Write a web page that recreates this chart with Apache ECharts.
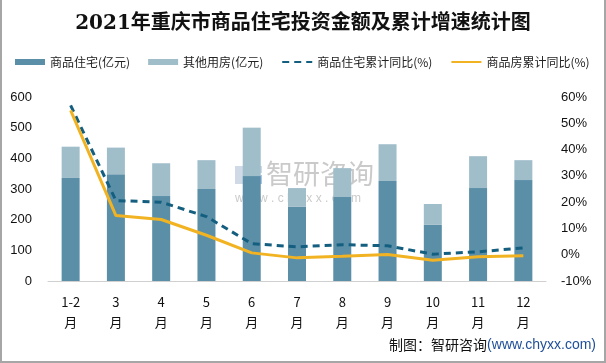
<!DOCTYPE html>
<html>
<head>
<meta charset="utf-8">
<script src="https://cdn.jsdelivr.net/npm/echarts@6/dist/echarts.min.js"></script>
<style>
html,body{margin:0;padding:0;background:#fff;}
#c{width:606px;height:363px;box-sizing:border-box;border-left:2px solid #a6a6a6;border-right:2px solid #a6a6a6;border-bottom:2px solid #a6a6a6;}
</style>
</head>
<body>
<div id="c"></div>
<script>
const categories = ['1-2', '3', '4', '5', '6', '7', '8', '9', '10', '11', '12'];
const residential = [336, 348, 277, 300, 342, 242, 274, 326, 183, 303, 329];
const otherHousing = [102, 87, 107, 94, 158, 61, 94, 120, 68, 104, 65];
const residentialYoY = [56.8, 20.6, 20.0, 14.5, 4.2, 3.0, 3.8, 3.4, 0.2, 1.1, 2.6];
const commercialYoY = [54.9, 14.9, 13.4, 7.4, 0.7, -1.2, -0.6, 0.1, -2.1, -0.8, -0.4];
const leftTicks = {min: 0, max: 600, interval: 100};
const rightTicks = {min: -10, max: 60, interval: 10};

const chart = echarts.init(document.getElementById('c'));
const font = '"Noto Sans CJK SC", "Liberation Sans", sans-serif';
chart.setOption({
  animation: false,
  title: {
    text: '2021年重庆市商品住宅投资金额及累计增速统计图',
    left: 'center', top: 9,
    textStyle: {fontSize: 20, fontWeight: 'bold', color: '#111', fontFamily: '"DejaVu Serif", "Noto Sans CJK SC", serif'}
  },
  legend: {
    left: 8, top: 51, itemWidth: 30, itemHeight: 6, itemGap: 18,
    textStyle: {fontSize: 12, color: '#222', fontFamily: font},
    data: [
      {name: '商品住宅(亿元)', icon: 'rect'},
      {name: '其他用房(亿元)', icon: 'rect'},
      {name: '商品住宅累计同比(%)', itemStyle: {opacity: 0}},
      {name: '商品房累计同比(%)', itemStyle: {opacity: 0}}
    ]
  },
  grid: {left: 46, right: 58, top: 97, bottom: 80},
  xAxis: {
    type: 'category', data: categories.map(c => c + '\n月'),
    axisLine: {lineStyle: {color: '#d0d0d0', width: 1}},
    axisTick: {show: false},
    axisLabel: {fontSize: 13, color: '#111', lineHeight: 20, margin: 11, fontFamily: font, interval: 0}
  },
  yAxis: [
    {type: 'value', min: leftTicks.min, max: leftTicks.max, interval: leftTicks.interval,
     splitLine: {show: false}, axisLine: {show: false}, axisTick: {show: false},
     axisLabel: {fontSize: 13, color: '#111', margin: 16, fontFamily: '"Liberation Sans", sans-serif'}},
    {type: 'value', min: rightTicks.min, max: rightTicks.max, interval: rightTicks.interval,
     splitLine: {show: false}, axisLine: {show: false}, axisTick: {show: false},
     axisLabel: {fontSize: 13, color: '#111', margin: 15, formatter: '{value}%', fontFamily: '"Liberation Sans", sans-serif'}}
  ],
  graphic: [
    {type: 'group', left: 233, top: 160, silent: true, z: 100, children: [
      {type: 'rect', shape: {x: 0, y: 6, width: 9, height: 18}, style: {fill: 'rgba(170,185,210,0.55)'}},
      {type: 'rect', shape: {x: 11, y: 6, width: 16, height: 7}, style: {fill: 'rgba(170,185,210,0.55)'}},
      {type: 'rect', shape: {x: 19, y: 15, width: 8, height: 9}, style: {fill: 'rgba(100,150,210,0.55)'}},
      {type: 'text', style: {x: 31, y: 0, text: '智研咨询', fontSize: 27, fill: 'rgba(150,150,150,0.5)', fontFamily: font}},
      {type: 'text', style: {x: 0, y: 33, text: 'w w w . c h y x x . c o m', fontSize: 12, fill: 'rgba(150,150,150,0.5)', fontFamily: '"Liberation Sans", sans-serif'}}
    ]},
    {type: 'text', right: 8, top: 338, style: {
      text: '{a|制图：智研咨询}{b|(www.chyxx.com)}',
      rich: {
        a: {fontSize: 14, fill: '#111', fontFamily: font},
        b: {fontSize: 14, fill: '#1f4e9a', fontFamily: '"Liberation Sans", sans-serif'}
      }
    }}
  ],
  series: [
    {name: '商品住宅(亿元)', type: 'bar', stack: 'a', barWidth: 18, data: residential, itemStyle: {color: '#5b8fa8'}},
    {name: '其他用房(亿元)', type: 'bar', stack: 'a', barWidth: 18, data: otherHousing, itemStyle: {color: '#a0bdca'}},
    {name: '商品住宅累计同比(%)', type: 'line', yAxisIndex: 1, data: residentialYoY, symbol: 'none',
     lineStyle: {color: '#145f80', width: 3, type: [7, 5]}, itemStyle: {color: '#145f80'}},
    {name: '商品房累计同比(%)', type: 'line', yAxisIndex: 1, data: commercialYoY, symbol: 'none',
     lineStyle: {color: '#f2b323', width: 3}, itemStyle: {color: '#f2b323'}}
  ]
});
</script>
</body>
</html>
